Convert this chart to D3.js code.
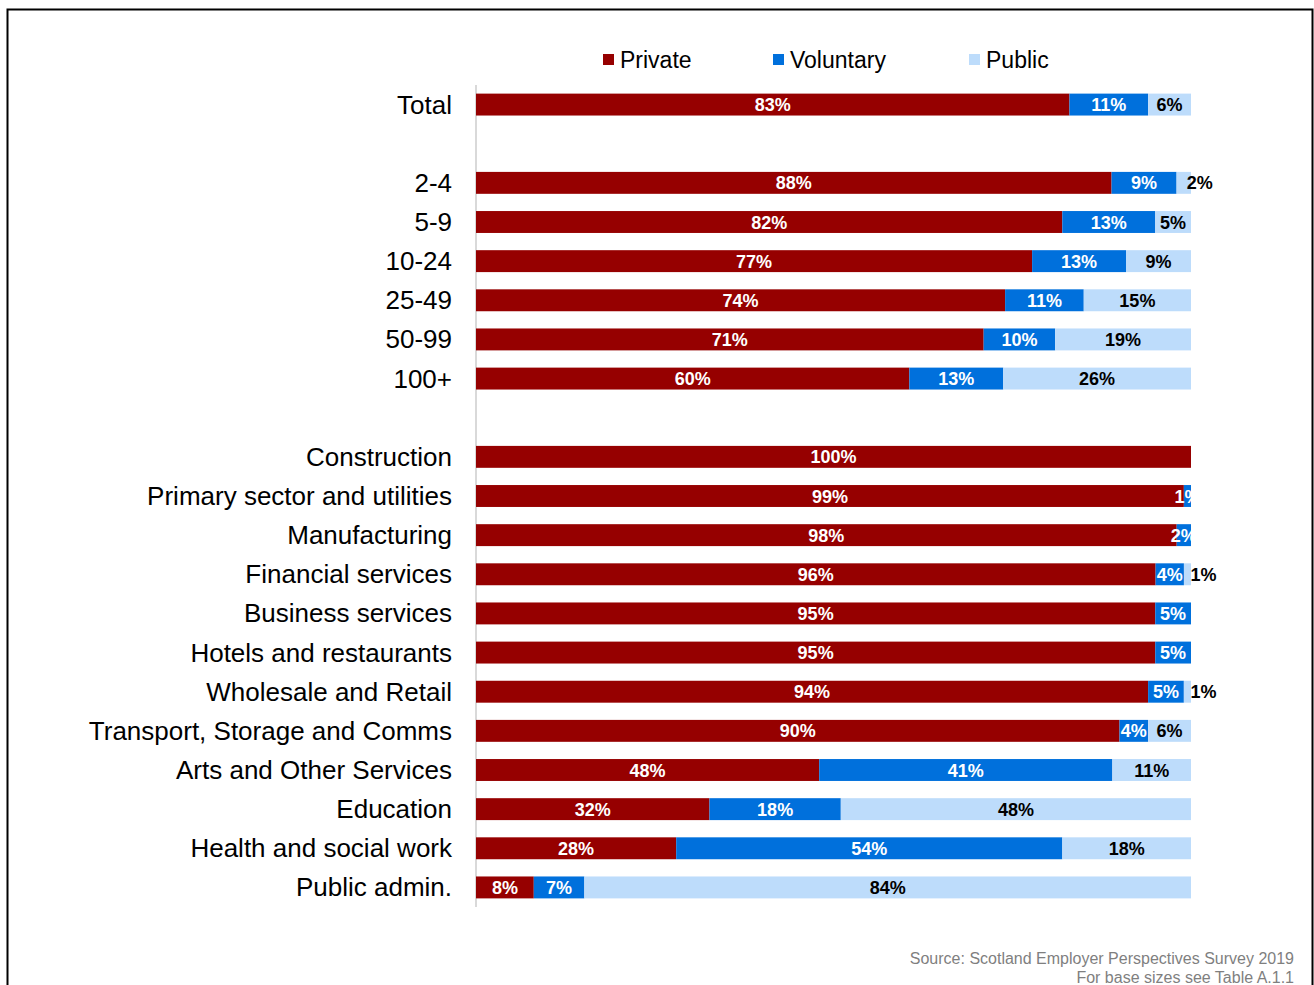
<!DOCTYPE html>
<html>
<head>
<meta charset="utf-8">
<script src="https://cdn.jsdelivr.net/npm/d3@7"></script>
<style>
  body { margin: 0; background: #fff; }
  svg text { font-family: "Liberation Sans", Arial, sans-serif; }
</style>
</head>
<body>
<div id="chart-container"></div>
<script>
// rows, "gap" keys give the blank rows between groups
const categories = ["Total", "gap1", "2-4", "5-9", "10-24", "25-49", "50-99", "100+", "gap2",
  "Construction", "Primary sector and utilities", "Manufacturing", "Financial services",
  "Business services", "Hotels and restaurants", "Wholesale and Retail",
  "Transport, Storage and Comms", "Arts and Other Services", "Education",
  "Health and social work", "Public admin."];

const privateVals   = [83, null, 88, 82, 77, 74, 71, 60, null, 100, 99, 98, 96, 95, 95, 94, 90, 48, 32, 28, 8];
const voluntaryVals = [11, null,  9, 13, 13, 11, 10, 13, null,   0,  1,  2,  4,  5,  5,  5,  4, 41, 18, 54, 7];
const publicVals    = [ 6, null,  2,  5,  9, 15, 19, 26, null,   0,  0,  0,  1,  0,  0,  1,  6, 11, 48, 18, 84];

const seriesNames = ["Private", "Voluntary", "Public"];
const seriesColors = ["#960000", "#0070DC", "#BDDCFB"];
const sourceLines = ["Source: Scotland Employer Perspectives Survey 2019", "For base sizes see Table A.1.1"];

const W = 1314, H = 985;
const margin = {top: 85, left: 476, right: 123, bottom: 78};

const svg = d3.select("#chart-container")
  .append("svg")
    .attr("width", W)
    .attr("height", H);

svg.append("rect")
  .attr("x", 7.5).attr("y", 9.5)
  .attr("width", 1305).attr("height", 1000)
  .attr("fill", "none")
  .attr("stroke", "#000")
  .attr("stroke-width", 2);

const rows = categories.map(function(c, i) {
  return {cat: c, Private: privateVals[i] || 0, Voluntary: voluntaryVals[i] || 0, Public: publicVals[i] || 0,
          blank: privateVals[i] === null};
});

const x = d3.scaleLinear().domain([0, 1]).range([margin.left, W - margin.right]);
const y = d3.scaleBand().domain(categories).range([margin.top, H - margin.bottom]).paddingInner(0.44).paddingOuter(0.22);

const stacked = d3.stack().keys(seriesNames).offset(d3.stackOffsetExpand)(rows.filter(function(r) { return !r.blank; }));

// axis line
svg.append("line")
  .attr("x1", margin.left).attr("x2", margin.left)
  .attr("y1", margin.top).attr("y2", H - margin.bottom)
  .attr("stroke", "#d9d9d9").attr("stroke-width", 2);

const layer = svg.selectAll("g.layer")
  .data(stacked)
  .enter().append("g")
    .attr("class", "layer")
    .attr("fill", function(d, i) { return seriesColors[i]; });

layer.selectAll("rect")
  .data(function(d) { return d; })
  .enter().append("rect")
    .attr("x", function(d) { return x(d[0]); })
    .attr("y", function(d) { return y(d.data.cat); })
    .attr("width", function(d) { return x(d[1]) - x(d[0]); })
    .attr("height", y.bandwidth());

// value labels
stacked.forEach(function(s, si) {
  svg.append("g").selectAll("text")
    .data(s.filter(function(d) { return d.data[s.key] > 0; }))
    .enter().append("text")
      .attr("x", function(d) {
        const cx = (x(d[0]) + x(d[1])) / 2;
        return (si === 2 && d.data[s.key] < 3) ? cx + 16 : cx;
      })
      .attr("y", function(d) { return y(d.data.cat) + y.bandwidth() / 2 + 6.5; })
      .attr("text-anchor", "middle")
      .attr("font-size", 18)
      .attr("font-weight", "bold")
      .attr("fill", si === 2 ? "#000" : "#fff")
      .text(function(d) { return d.data[s.key] + "%"; });
});

// category labels
svg.append("g").selectAll("text")
  .data(categories.filter(function(c) { return c.indexOf("gap") !== 0; }))
  .enter().append("text")
    .attr("x", 452)
    .attr("y", function(d) { return y(d) + y.bandwidth() / 2 + 9; })
    .attr("text-anchor", "end")
    .attr("font-size", 26)
    .attr("fill", "#000")
    .text(function(d) { return d; });

// legend
const legendX = [603, 773, 969];
const legend = svg.append("g").selectAll("g")
  .data(seriesNames)
  .enter().append("g")
    .attr("transform", function(d, i) { return "translate(" + legendX[i] + ",54)"; });
legend.append("rect")
  .attr("width", 11).attr("height", 11)
  .attr("fill", function(d, i) { return seriesColors[i]; });
legend.append("text")
  .attr("x", 17).attr("y", 14)
  .attr("font-size", 23)
  .attr("fill", "#000")
  .text(function(d) { return d; });

// source
svg.append("g").selectAll("text")
  .data(sourceLines)
  .enter().append("text")
    .attr("x", 1294)
    .attr("y", function(d, i) { return 964 + i * 19; })
    .attr("text-anchor", "end")
    .attr("font-size", 16)
    .attr("fill", "#7f7f7f")
    .text(function(d) { return d; });
</script>
</body>
</html>
